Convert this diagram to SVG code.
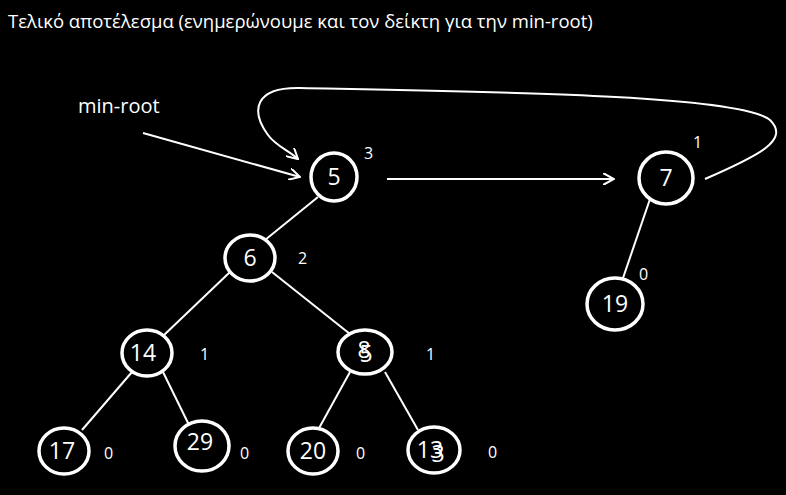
<svg xmlns="http://www.w3.org/2000/svg" width="786" height="495" viewBox="0 0 786 495">
<style>
text{font-family:"Open Sans","DejaVu Sans",sans-serif;fill:#fff}
.n{font-size:23px;text-anchor:middle}
.s{font-size:16px}
ellipse{fill:#000;stroke:#fff;stroke-width:3.5}
.c line,.c path{stroke:#fff;stroke-width:2;fill:none}
</style>
<defs><marker id="a" viewBox="0 0 12 12" refX="11" refY="6" markerWidth="12" markerHeight="12" markerUnits="userSpaceOnUse" orient="auto"><path d="M0,0L11,6L0,12" fill="none" stroke="#fff" stroke-width="2"/></marker></defs>
<rect width="786" height="495" fill="#000"/>
<text x="8" y="28" style="font-size:18.5px">Τελικό αποτέλεσμα (ενημερώνουμε και τον δείκτη για την min-root)</text>
<text x="78" y="113" style="font-size:20px">min-root</text>
<g class="c">
<line x1="143" y1="133" x2="300" y2="177" marker-end="url(#a)"/>
<line x1="387" y1="179" x2="614" y2="179" marker-end="url(#a)"/>
<path d="M705,179C760,155 790,140 770,120C740,95 500,92 300,88C255,87 250,110 268,135C276,146 288,150 298,159" marker-end="url(#a)"/>
<line x1="318" y1="197" x2="265" y2="240"/>
<line x1="230" y1="272" x2="163" y2="336"/>
<line x1="272" y1="272" x2="350" y2="334"/>
<line x1="650" y1="199" x2="622" y2="281"/>
<line x1="132" y1="372" x2="82" y2="430"/>
<line x1="163" y1="372" x2="190" y2="427"/>
<line x1="350" y1="372" x2="318" y2="430"/>
<line x1="385" y1="372" x2="418" y2="430"/>
</g>
<g id="n5"><ellipse cx="334" cy="177" rx="23" ry="24"/><text class="n" x="334" y="185">5</text><text class="s" x="364" y="159">3</text></g>
<g id="n7"><ellipse cx="666" cy="178" rx="27" ry="26"/><text class="n" x="666" y="186">7</text><text class="s" x="693" y="148">1</text></g>
<g id="n6"><ellipse cx="250" cy="258" rx="25" ry="23"/><text class="n" x="250" y="266">6</text><text class="s" x="298" y="264">2</text></g>
<g id="n19"><ellipse cx="615" cy="304" rx="28" ry="26"/><text class="n" x="615" y="312">19</text><text class="s" x="639" y="280">0</text></g>
<g id="n14"><ellipse cx="147" cy="353" rx="25" ry="23"/><text class="n" x="143" y="361">14</text><text class="s" x="200" y="360">1</text></g>
<g id="n8"><ellipse cx="365" cy="352" rx="27" ry="22"/><text class="n" x="364" y="358">8</text><text class="n" x="366" y="362">5</text><text class="s" x="426" y="360">1</text></g>
<g id="n17"><ellipse cx="64" cy="451" rx="25" ry="23"/><text class="n" x="62" y="459">17</text><text class="s" x="104" y="459">0</text></g>
<g id="n29"><ellipse cx="202" cy="446" rx="27" ry="25"/><text class="n" x="200" y="450">29</text><text class="s" x="240" y="459">0</text></g>
<g id="n20"><ellipse cx="313" cy="451" rx="25" ry="23"/><text class="n" x="313" y="459">20</text><text class="s" x="356" y="459">0</text></g>
<g id="n13"><ellipse cx="434" cy="450" rx="26" ry="23"/><text class="n" x="430" y="458">13</text><text class="n" x="438" y="462">3</text><text class="s" x="488" y="458">0</text></g>
</svg>
